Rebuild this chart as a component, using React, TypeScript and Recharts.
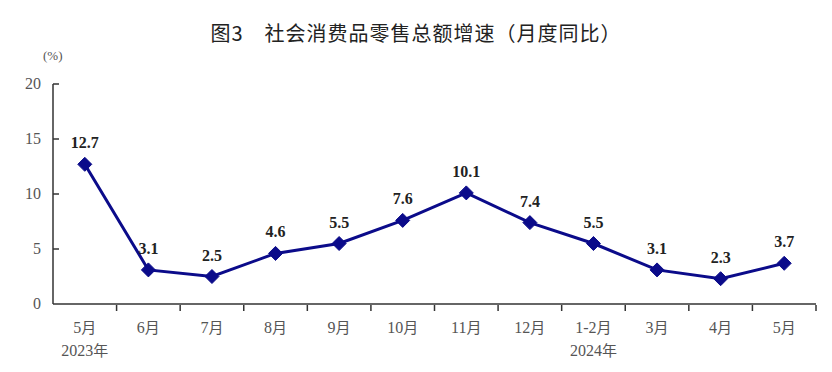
import React from "react";
import { LineChart, Line, XAxis, YAxis, LabelList } from "recharts";

const months = ["5月", "6月", "7月", "8月", "9月", "10月", "11月", "12月", "1-2月", "3月", "4月", "5月"];
const yearLabels = ["2023年", "", "", "", "", "", "", "", "2024年", "", "", ""];
const growth = [12.7, 3.1, 2.5, 4.6, 5.5, 7.6, 10.1, 7.4, 5.5, 3.1, 2.3, 3.7];
const yTicks = [0, 5, 10, 15, 20];

const data = months.map((m, i) => ({ month: m, year: yearLabels[i], idx: i, value: growth[i] }));

const LINE = "#0b0b8a";
const AXIS = "#333";
const SERIF = "'Liberation Serif', 'DejaVu Serif', serif";
const CJK = "'Noto Sans CJK SC', sans-serif";

const W = 832;
const H = 372;
const LEFT = 53;
const RIGHT = 16;
const BAND = (W - LEFT - RIGHT) / months.length;

function XTick(props: any) {
  const { x, y, payload } = props;
  const year = yearLabels[payload.index];
  return (
    <g>
      <line x1={x + BAND / 2} x2={x + BAND / 2} y1={y - 1} y2={y - 7} stroke={AXIS} strokeWidth={1.5} />
      <text x={x} y={y + 21} textAnchor="middle" fill="#555" fontSize={16} fontFamily={SERIF}>
        {payload.value.replace("月", "")}
        <tspan fontFamily={CJK} fontSize={15}>月</tspan>
      </text>
      {year && (
        <text x={x} y={y + 44} textAnchor="middle" fill="#555" fontSize={16} fontFamily={SERIF}>
          {year.replace("年", "")}
          <tspan fontFamily={CJK} fontSize={15}>年</tspan>
        </text>
      )}
    </g>
  );
}

function YTick(props: any) {
  const { y, payload } = props;
  return (
    <g>
      {payload.value !== 0 && (
        <line x1={LEFT} x2={LEFT + 6} y1={y} y2={y} stroke={AXIS} strokeWidth={1.5} />
      )}
      <text x={41} y={y + 5} textAnchor="end" fill="#555" fontSize={16} fontFamily={SERIF}>
        {payload.value}
      </text>
    </g>
  );
}

function Diamond(props: any) {
  const { cx, cy } = props;
  const r = 7;
  return (
    <polygon
      points={`${cx},${cy - r} ${cx + r},${cy} ${cx},${cy + r} ${cx - r},${cy}`}
      fill={LINE}
      stroke={LINE}
    />
  );
}

export default function App() {
  return (
    <div style={{ position: "absolute", left: 0, top: 0, width: W, height: H, background: "#fff" }}>
      <div
        style={{
          position: "absolute",
          left: 0,
          width: W,
          top: 18,
          textAlign: "center",
          fontFamily: CJK,
          fontSize: 20,
          fontWeight: 400,
          color: "#222",
          letterSpacing: 1,
        }}
      >
        图3　社会消费品零售总额增速（月度同比）
      </div>
      <div
        style={{ position: "absolute", left: 43, top: 48, fontFamily: SERIF, fontSize: 13, color: "#555" }}
      >
        (%)
      </div>
      <LineChart width={W} height={H} data={data} margin={{ top: 84, right: RIGHT, left: 0, bottom: 0 }}>
        <XAxis
          dataKey="month"
          height={68}
          interval={0}
          padding={{ left: BAND / 2, right: BAND / 2 }}
          tickLine={false}
          axisLine={{ stroke: AXIS, strokeWidth: 1.5 }}
          tick={<XTick />}
        />
        <YAxis
          width={LEFT}
          domain={[0, 20]}
          ticks={yTicks}
          tickLine={false}
          axisLine={{ stroke: AXIS, strokeWidth: 1.5 }}
          tick={<YTick />}
        />
        <Line
          dataKey="value"
          stroke={LINE}
          strokeWidth={3}
          dot={<Diamond />}
          activeDot={false}
          isAnimationActive={false}
        >
          <LabelList
            dataKey="value"
            position="top"
            offset={16}
            fill="#222"
            fontSize={16}
            fontWeight="bold"
            fontFamily={SERIF}
            formatter={(v: any) => Number(v).toFixed(1)}
          />
        </Line>
      </LineChart>
    </div>
  );
}
